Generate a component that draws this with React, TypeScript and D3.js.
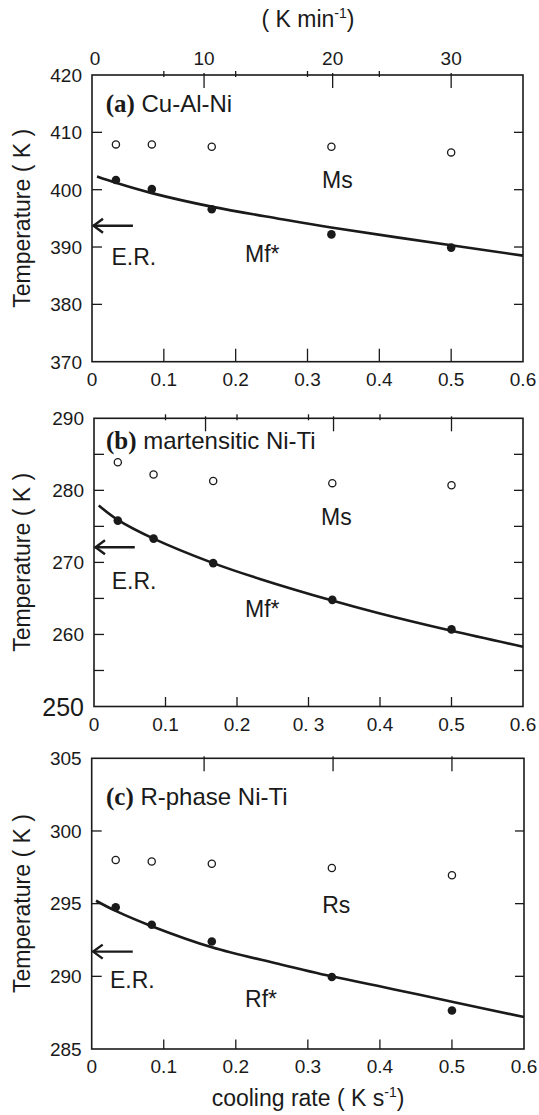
import React from 'react';
import * as d3 from 'd3';

// ---- data ----
const coolingRates = [0.0333, 0.0833, 0.1667, 0.3333, 0.5]; // K/s (2, 5, 10, 20, 30 K/min)

const msA = [407.9, 407.9, 407.5, 407.5, 406.5];
const mfA = [401.7, 400.1, 396.6, 392.2, 389.9];
const fitRateA = [0.007, 0.0333, 0.0833, 0.168, 0.262, 0.333, 0.5, 0.6];
const fitA = [402.3, 401.2, 399.4, 397.0, 394.9, 393.4, 390.3, 388.5];

const msB = [283.9, 282.2, 281.3, 281.0, 280.7];
const mfB = [275.8, 273.3, 269.9, 264.8, 260.7];
const fitRateB = [0.0066, 0.0333, 0.0833, 0.1667, 0.232, 0.333, 0.4, 0.5, 0.6];
const fitB = [277.9, 275.9, 273.3, 269.9, 267.7, 264.7, 262.9, 260.5, 258.3];

const rsC = [298.0, 297.9, 297.75, 297.45, 296.95];
const rfC = [294.75, 293.55, 292.4, 289.95, 287.65];
const fitRateC = [0.006, 0.0333, 0.0833, 0.1667, 0.26, 0.333, 0.42, 0.5, 0.6];
const fitC = [295.2, 294.5, 293.45, 292.0, 290.85, 290.0, 289.1, 288.25, 287.2];

const erA = 393.7;
const erB = 272.1;
const erC = 291.7;

const xTickValues = [0, 0.1, 0.2, 0.3, 0.4, 0.5, 0.6];
const xTickLabelsA = ['0', '0.1', '0.2', '0.3', '0.4', '0.5', '0.6'];
const xTickLabelsB = ['0', '0.1', '0.2', '0. 3', '0.4', '0.5', '0.6'];
const xTickLabelsC = ['0', '0.1', '0.2', '0.3', '0.4', '0.5', '0.6'];

const topTickRates = [0, 0.156, 0.335, 0.5]; // positions of the K/min ticks, in K/s
const topTickLabels = ['0', '10', '20', '30'];

const yTicksA = [370, 380, 390, 400, 410, 420];
const yTicksB = [250, 260, 270, 280, 290];
const yMinorB = [255, 260, 265, 270, 275, 280, 285];
const yTicksC = [285, 290, 295, 300, 305];

const SANS = '"Liberation Sans", Arial, Helvetica, sans-serif';
const SERIF = '"Liberation Serif", "Times New Roman", Times, serif';
const INK = '#1a1a1a';

type PanelCfg = {
  left: number; right: number; top: number; bottom: number;
  yDomain: [number, number];
  yTicks: number[];
  innerTicks: number[];
  rightTicks: number[];
  xLabels: string[];
  topShort: boolean;
  bottomTickLen: number;
  ms: number[]; mf: number[];
  fitX: number[]; fitY: number[];
  er: number;
  tag: string; title: string;
  upperName: string; lowerName: string;
  upperPos: [number, number]; lowerPos: [number, number]; erPos: [number, number];
  tagPos: [number, number];
  bigLabel?: number;
};

const panels: PanelCfg[] = [
  {
    left: 92, right: 523, top: 75, bottom: 361.7,
    yDomain: [370, 420], yTicks: yTicksA,
    innerTicks: [380, 390, 400, 410], rightTicks: [380, 390, 400, 410],
    xLabels: xTickLabelsA, topShort: true, bottomTickLen: 13,
    ms: msA, mf: mfA, fitX: fitRateA, fitY: fitA, er: erA,
    tag: '(a)', title: 'Cu-Al-Ni', upperName: 'Ms', lowerName: 'Mf*',
    upperPos: [0.3202, 400.29], lowerPos: [0.213, 387.39], erPos: [0.0271, 386.87],
    tagPos: [0.019, 413.5],
  },
  {
    left: 94, right: 523, top: 418.3, bottom: 706.5,
    yDomain: [250, 290], yTicks: yTicksB,
    innerTicks: yMinorB, rightTicks: yMinorB,
    xLabels: xTickLabelsB, topShort: true, bottomTickLen: 9.5,
    ms: msB, mf: mfB, fitX: fitRateB, fitY: fitB, er: erB,
    tag: '(b)', title: 'martensitic Ni-Ti', upperName: 'Ms', lowerName: 'Mf*',
    upperPos: [0.3175, 275.18], lowerPos: [0.2112, 262.4], erPos: [0.0248, 266.29],
    tagPos: [0.0168, 285.8], bigLabel: 250,
  },
  {
    left: 91.7, right: 524, top: 758.3, bottom: 1049,
    yDomain: [285, 305], yTicks: yTicksC,
    innerTicks: [290, 295, 300], rightTicks: [290, 295, 300],
    xLabels: xTickLabelsC, topShort: false, bottomTickLen: 9.5,
    ms: rsC, mf: rfC, fitX: fitRateC, fitY: fitC, er: erC,
    tag: '(c)', title: 'R-phase Ni-Ti', upperName: 'Rs', lowerName: 'Rf*',
    upperPos: [0.32, 294.35], lowerPos: [0.2128, 287.88], erPos: [0.0254, 289.19],
    tagPos: [0.0199, 301.8],
  },
];

function Panel({ cfg, showTopLabels }: { cfg: PanelCfg; showTopLabels: boolean }) {
  const x = d3.scaleLinear().domain([0, 0.6]).range([cfg.left, cfg.right]);
  const y = d3.scaleLinear().domain(cfg.yDomain).range([cfg.bottom, cfg.top]);
  const line = d3
    .line<number>()
    .x((_, i) => x(cfg.fitX[i]))
    .y((d) => y(d))
    .curve(d3.curveCatmullRom.alpha(0.5));
  const erY = y(cfg.er);
  const x0 = x(0);
  const xEnd = x(0.057);
  return (
    <g>
      {/* frame */}
      <rect x={cfg.left} y={cfg.top} width={cfg.right - cfg.left} height={cfg.bottom - cfg.top}
        fill="none" stroke={INK} strokeWidth={1.6} />
      {/* left ticks */}
      {cfg.innerTicks.map((t) => (
        <line key={'l' + t} x1={cfg.left} x2={cfg.left + 10} y1={y(t)} y2={y(t)} stroke={INK} strokeWidth={1.3} />
      ))}
      {cfg.rightTicks.map((t) => (
        <line key={'r' + t} x1={cfg.right} x2={cfg.right - 9} y1={y(t)} y2={y(t)} stroke={INK} strokeWidth={1.3} />
      ))}
      {/* y tick labels */}
      {cfg.yTicks.map((t) => (
        <text key={'yl' + t} x={cfg.left - 10} y={y(t)} dy="0.36em" textAnchor="end"
          fontFamily={SANS} fontSize={cfg.bigLabel === t ? 25 : 19} fill={INK}>
          {t}
        </text>
      ))}
      {/* bottom ticks */}
      {xTickValues.slice(1, 6).map((t) => (
        <line key={'b' + t} x1={x(t)} x2={x(t)} y1={cfg.bottom} y2={cfg.bottom - cfg.bottomTickLen} stroke={INK} strokeWidth={1.3} />
      ))}
      {xTickValues.map((t, i) => (
        <text key={'xl' + t} x={x(t)} y={cfg.bottom + 24} textAnchor="middle"
          fontFamily={SANS} fontSize={19} fill={INK}>
          {cfg.xLabels[i]}
        </text>
      ))}
      {/* top ticks */}
      {cfg.topShort &&
        xTickValues.slice(1, 5).map((t) => (
          <line key={'ts' + t} x1={x(t)} x2={x(t)} y1={cfg.top - 4} y2={cfg.top + 2} stroke={INK} strokeWidth={1.3} />
        ))}
      {topTickRates.slice(1).map((t) => (
        <line key={'tl' + t} x1={x(t)} x2={x(t)} y1={cfg.top - 2} y2={cfg.top + 13} stroke={INK} strokeWidth={1.3} />
      ))}
      {showTopLabels &&
        topTickRates.map((t, i) => (
          <text key={'tt' + t} x={x(t) + (i === 0 ? 3 : 0)} y={cfg.top - 10} textAnchor="middle"
            fontFamily={SANS} fontSize={19} fill={INK}>
            {topTickLabels[i]}
          </text>
        ))}
      {/* fit curve */}
      <path d={line(cfg.fitY) || ''} fill="none" stroke={INK} strokeWidth={2.6} />
      {/* start points (open) */}
      {cfg.ms.map((v, i) => (
        <circle key={'o' + i} cx={x(coolingRates[i])} cy={y(v)} r={3.6} fill="#fff" stroke={INK} strokeWidth={1.3} />
      ))}
      {/* finish points (filled) */}
      {cfg.mf.map((v, i) => (
        <circle key={'f' + i} cx={x(coolingRates[i])} cy={y(v)} r={4.3} fill={INK} />
      ))}
      {/* E.R. arrow */}
      <path d={`M${x0 + 1},${erY} H${xEnd}`} stroke={INK} strokeWidth={2.4} fill="none" />
      <path d={`M${x0 + 11},${erY - 7} L${x0 + 1.5},${erY} L${x0 + 11},${erY + 7}`} stroke={INK} strokeWidth={2.4} fill="none" />
      {/* annotations */}
      <text x={x(cfg.tagPos[0])} y={y(cfg.tagPos[1])} fill={INK}>
        <tspan fontFamily={SERIF} fontWeight="bold" fontSize={25}>{cfg.tag}</tspan>
        <tspan fontFamily={SANS} fontSize={24}>{' ' + cfg.title}</tspan>
      </text>
      <text x={x(cfg.upperPos[0])} y={y(cfg.upperPos[1])} fontFamily={SANS} fontSize={23} fill={INK}>{cfg.upperName}</text>
      <text x={x(cfg.lowerPos[0])} y={y(cfg.lowerPos[1])} fontFamily={SANS} fontSize={23} fill={INK}>{cfg.lowerName}</text>
      <text x={x(cfg.erPos[0])} y={y(cfg.erPos[1])} fontFamily={SANS} fontSize={23} fill={INK}>E.R.</text>
      {/* y axis title */}
      <text transform={`translate(30,${(cfg.top + cfg.bottom) / 2}) rotate(-90)`} textAnchor="middle"
        fontFamily={SANS} fontSize={23} fill={INK}>
        Temperature ( K )
      </text>
    </g>
  );
}

export default function App() {
  return (
    <svg width={539} height={1115} viewBox="0 0 539 1115"
      style={{ position: 'absolute', left: 0, top: 0, background: '#fff' }}>
      <rect x={0} y={0} width={539} height={1115} fill="#fff" />
      <text x={308} y={27} textAnchor="middle" fontFamily={SANS} fontSize={23} fill={INK}>
        ( K min<tspan dy={-9} fontSize={14}>-1</tspan><tspan dy={9}>)</tspan>
      </text>
      {panels.map((p, i) => (
        <Panel key={i} cfg={p} showTopLabels={i === 0} />
      ))}
      <text x={308} y={1106} textAnchor="middle" fontFamily={SANS} fontSize={23} fill={INK}>
        cooling rate ( K s<tspan dy={-9} fontSize={14}>-1</tspan><tspan dy={9}>)</tspan>
      </text>
    </svg>
  );
}
